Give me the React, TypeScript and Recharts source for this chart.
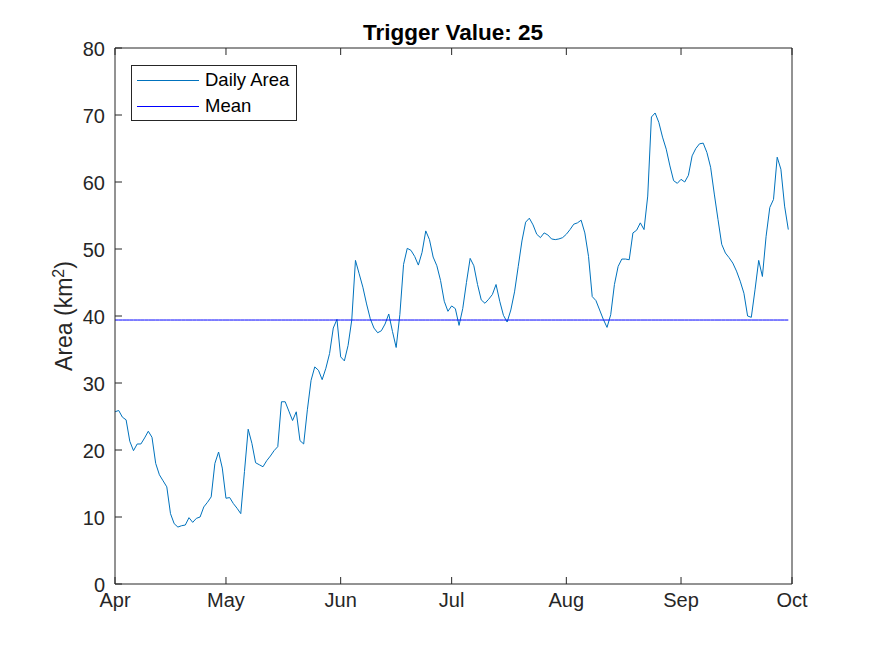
import { LineChart, Line, XAxis, YAxis, Legend } from "recharts";

const TITLE = "Trigger Value: 25";
const MONTH_LABELS = ["Apr", "May", "Jun", "Jul", "Aug", "Sep", "Oct"];
const MONTH_START_DAYS = [0, 30, 61, 91, 122, 153, 183];
const Y_TICKS = [0, 10, 20, 30, 40, 50, 60, 70, 80];

// daily area (km^2), 1 Apr .. 30 Sep
const DAILY_AREA = [
  25.7, 25.9, 24.9, 24.5, 21.3, 19.9, 20.9, 20.9, 21.8, 22.8,
  21.9, 18.0, 16.3, 15.4, 14.5, 10.5, 9.0, 8.5, 8.7, 8.8,
  9.9, 9.2, 9.8, 10.0, 11.5, 12.2, 13.0, 18.0, 19.7, 17.3,
  12.8, 12.9, 12.0, 11.3, 10.5, 16.8, 23.1, 21.0, 18.1, 17.8,
  17.5, 18.4, 19.1, 19.9, 20.5, 27.2, 27.2, 25.8, 24.4, 25.7,
  21.4, 20.9, 26.0, 30.4, 32.4, 31.9, 30.5, 32.2, 34.4, 38.2,
  39.5, 33.9, 33.3, 35.6, 39.4, 48.3, 46.3, 44.3, 41.8, 39.6,
  38.2, 37.5, 37.8, 38.8, 40.3, 37.7, 35.3, 40.2, 47.7, 50.1,
  49.8, 48.9, 47.6, 49.5, 52.7, 51.4, 48.8, 47.5, 45.3, 42.2,
  40.7, 41.5, 41.1, 38.6, 41.1, 45.0, 48.6, 47.5, 44.7, 42.4,
  41.9, 42.5, 43.2, 44.7, 42.2, 40.1, 39.1, 40.9, 43.6, 47.4,
  51.2, 54.0, 54.6, 53.6, 52.2, 51.7, 52.4, 52.1, 51.5, 51.4,
  51.5, 51.7, 52.2, 52.9, 53.7, 53.9, 54.3, 52.4, 48.9, 42.9,
  42.3, 40.9, 39.5, 38.3, 40.2, 44.7, 47.4, 48.5, 48.5, 48.4,
  52.4, 52.8, 53.9, 52.9, 57.9, 69.7, 70.3, 68.9, 66.7, 64.9,
  62.4, 60.2, 59.8, 60.4, 60.0, 61.0, 63.9, 65.0, 65.7, 65.8,
  64.4, 62.2, 58.2, 54.4, 50.7, 49.4, 48.7, 47.9, 46.7, 45.2,
  43.4, 40.0, 39.8, 43.9, 48.3, 45.9, 51.9, 56.2, 57.4, 63.7,
  61.9, 56.4, 52.9,
];
const MEAN_AREA = 39.4;

const AREA_COLOR = "#0072bd";
const MEAN_COLOR = "#0000ff";
const AXIS_COLOR = "#262626";
const FONT = "'Liberation Sans', Arial, Helvetica, sans-serif";
const TICK_LEN = 7;
const TICK_FONT = 20;

const data = DAILY_AREA.map((area, day) => ({ day, area, mean: MEAN_AREA }));

const monthLabel = (d: number) => MONTH_LABELS[MONTH_START_DAYS.indexOf(d)] ?? "";

// MATLAB-style inward ticks
function BottomTick({ x, y, payload }: any) {
  return (
    <g>
      <line x1={x} x2={x} y1={y} y2={y - TICK_LEN} stroke={AXIS_COLOR} />
      <text x={x} y={y + 23} textAnchor="middle" fill={AXIS_COLOR} fontSize={TICK_FONT} fontFamily={FONT}>
        {monthLabel(payload.value)}
      </text>
    </g>
  );
}

function TopTick({ x, y }: any) {
  return <line x1={x} x2={x} y1={y} y2={y + TICK_LEN} stroke={AXIS_COLOR} />;
}

function LeftTick({ x, y, payload }: any) {
  return (
    <g>
      <line x1={x} x2={x + TICK_LEN} y1={y} y2={y} stroke={AXIS_COLOR} />
      <text x={x - 10} y={y + 7.5} textAnchor="end" fill={AXIS_COLOR} fontSize={TICK_FONT} fontFamily={FONT}>
        {payload.value}
      </text>
    </g>
  );
}

function RightTick({ x, y }: any) {
  return <line x1={x} x2={x - TICK_LEN} y1={y} y2={y} stroke={AXIS_COLOR} />;
}

function LegendBox({ payload }: any) {
  const items = (payload || []) as { value: string; color: string }[];
  return (
    <div
      style={{
        width: 164,
        height: 54,
        border: `1px solid ${AXIS_COLOR}`,
        background: "#fff",
        position: "relative",
        fontFamily: FONT,
        fontSize: 18.5,
        color: "#000",
      }}
    >
      {items.map((it, i) => (
        <div
          key={it.value}
          style={{ position: "absolute", left: 0, top: 2 + i * 26, height: 24, display: "flex", alignItems: "center" }}
        >
          <svg width={68} height={24} style={{ marginLeft: 5, flex: "none" }}>
            <line x1={0} x2={62} y1={12.5} y2={12.5} stroke={it.color} strokeWidth={1} />
          </svg>
          <span style={{ whiteSpace: "nowrap", lineHeight: "24px" }}>{it.value}</span>
        </div>
      ))}
    </div>
  );
}

export default function App() {
  return (
    <div style={{ position: "absolute", left: 0, top: 0, width: 875, height: 656, background: "#fff" }}>
      <LineChart width={875} height={656} data={data} margin={{ top: 47, right: 82, bottom: 42, left: 55 }}>
        <XAxis
          xAxisId="b"
          dataKey="day"
          type="number"
          domain={[0, 183]}
          ticks={MONTH_START_DAYS}
          interval={0}
          height={30}
          tickSize={0}
          tickMargin={0}
          tickLine={false}
          stroke={AXIS_COLOR}
          tick={<BottomTick />}
          allowDataOverflow
        />
        <XAxis
          xAxisId="t"
          orientation="top"
          dataKey="day"
          type="number"
          domain={[0, 183]}
          ticks={MONTH_START_DAYS}
          interval={0}
          height={1}
          tickSize={0}
          tickMargin={0}
          tickLine={false}
          stroke={AXIS_COLOR}
          tick={<TopTick />}
          allowDataOverflow
        />
        <YAxis
          yAxisId="l"
          type="number"
          domain={[0, 80]}
          ticks={Y_TICKS}
          interval={0}
          width={60}
          tickSize={0}
          tickMargin={0}
          tickLine={false}
          stroke={AXIS_COLOR}
          tick={<LeftTick />}
        />
        <YAxis
          yAxisId="r"
          orientation="right"
          type="number"
          domain={[0, 80]}
          ticks={Y_TICKS}
          interval={0}
          width={1}
          tickSize={0}
          tickMargin={0}
          tickLine={false}
          stroke={AXIS_COLOR}
          tick={<RightTick />}
        />
        <Legend
          layout="horizontal"
          verticalAlign="middle"
          align="center"
          wrapperStyle={{ left: 131, top: 65, width: 166 }}
          content={<LegendBox />}
        />
        <Line
          xAxisId="b"
          yAxisId="l"
          dataKey="area"
          name="Daily Area"
          type="linear"
          stroke={AREA_COLOR}
          strokeWidth={1}
          dot={false}
          isAnimationActive={false}
        />
        <Line
          xAxisId="b"
          yAxisId="l"
          dataKey="mean"
          name="Mean"
          type="linear"
          stroke={MEAN_COLOR}
          strokeWidth={1}
          dot={false}
          isAnimationActive={false}
        />
      </LineChart>
      <svg
        width={875}
        height={656}
        style={{ position: "absolute", left: 0, top: 0, pointerEvents: "none" }}
        fontFamily={FONT}
      >
        <text x={453} y={40} textAnchor="middle" fontWeight="bold" fontSize={22.5} fill="#000">
          {TITLE}
        </text>
        <text transform="translate(72,316) rotate(-90)" textAnchor="middle" fontSize={23} fill={AXIS_COLOR}>
          Area (km
          <tspan dy={-8} fontSize={16}>
            2
          </tspan>
          <tspan dy={8}>)</tspan>
        </text>
      </svg>
    </div>
  );
}
